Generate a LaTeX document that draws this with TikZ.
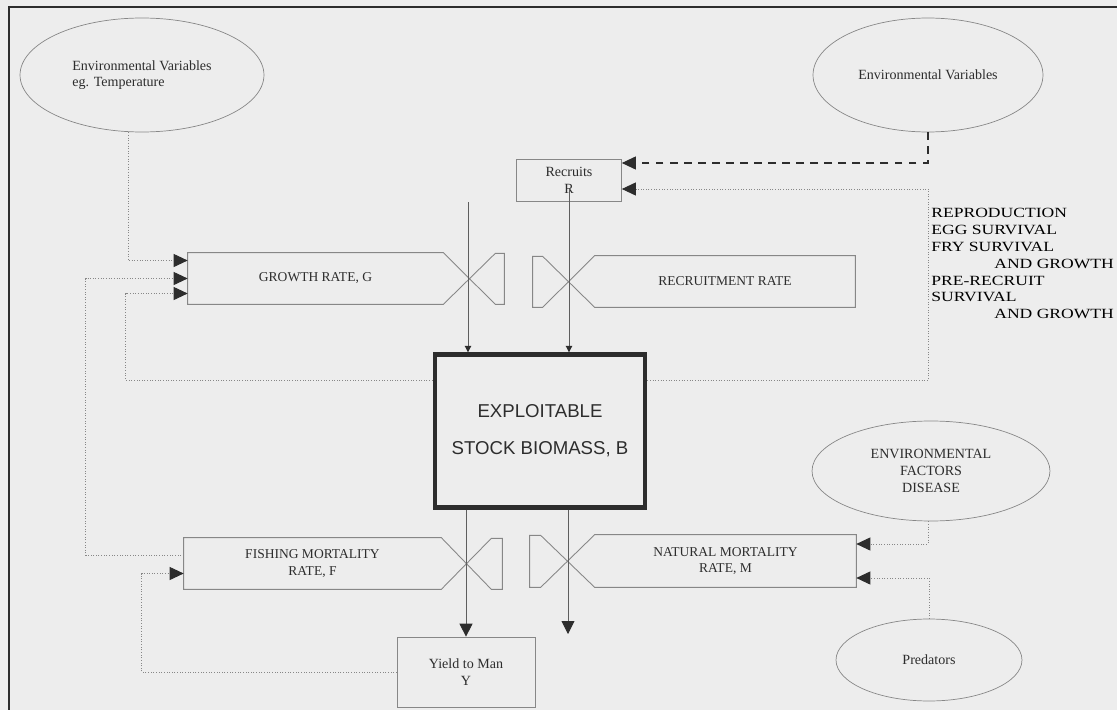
\documentclass[tikz,border=0pt]{standalone}
\usepackage{fontspec}
\setmainfont{Liberation Serif}
\newfontfamily\biofont{Liberation Sans}
\newfontfamily\widefont[FakeStretch=1.25]{Liberation Serif}
\usetikzlibrary{arrows.meta,calc,shapes.geometric}
\definecolor{bggray}{RGB}{237,237,237}
\definecolor{linegray}{RGB}{135,135,135}
\definecolor{inkgray}{RGB}{45,45,45}

\begin{document}
\begin{tikzpicture}[x=0.02cm, y=-0.02cm,
  box/.style={draw=linegray, rectangle, inner sep=0pt, align=center, text=inkgray, font=\fontsize{8}{9.5}\selectfont},
  rate/.style={rectangle, inner sep=0pt, minimum height=1.02cm, align=center, text=inkgray, font=\fontsize{7.7}{9.2}\selectfont},
  oval/.style={draw=linegray, ellipse, inner sep=0pt, align=center, text=inkgray, font=\fontsize{8}{9.5}\selectfont},
  valve/.style={draw=linegray, line width=0.5pt},
  flow/.style={draw=linegray!70!black, line width=0.5pt, -{Triangle[length=1.3mm,width=1.3mm,color=inkgray]}},
  flowbig/.style={draw=linegray!70!black, line width=0.5pt, -{Triangle[length=2.6mm,width=2.6mm,color=inkgray]}},
  fb/.style={draw=linegray, line width=0.5pt, densely dotted, -{Triangle[length=2.8mm,width=2.6mm,color=inkgray]}},
  fbdash/.style={draw=inkgray, line width=0.6pt, dash pattern=on 4.5pt off 3.5pt, -{Triangle[length=2.8mm,width=2.6mm,color=inkgray]}}
]
\useasboundingbox (0,0) rectangle (1117,710);
\fill[bggray] (0,0) rectangle (1117,710);
\draw[inkgray, line width=1.2pt] (9,730) -- (9,7) -- (1140,7);

% outside influences
\node[oval, minimum width=4.88cm, minimum height=2.28cm, align=left] (env1) at (142,75) {Environmental Variables\\eg. Temperature};
\node[oval, minimum width=4.6cm, minimum height=2.28cm] (env2) at (928,75) {Environmental Variables};
\node[oval, minimum width=4.76cm, minimum height=2cm] (envf) at (931,471) {ENVIRONMENTAL\\FACTORS\\DISEASE};
\node[oval, minimum width=3.72cm, minimum height=1.64cm] (pred) at (929,660) {Predators};

% stock and boxes
\node[box, minimum width=2.1cm, minimum height=0.84cm] (recruits) at (569,180) {Recruits\\R};
\node[box, minimum width=2.76cm, minimum height=1.4cm] (yield) at (466,672) {Yield to Man\\Y};
\node[draw=inkgray, line width=2.8pt, minimum width=4.2cm, minimum height=3.05cm, inner sep=0pt, align=center, text=inkgray, font=\biofont\fontsize{10.6}{21}\selectfont] (biomass) at (540,431) {EXPLOITABLE\\STOCK BIOMASS, B};

% rates with valves
\node[rate, minimum width=5.1cm] (growth) at (315.5,278.5) {GROWTH RATE, G};
\node[rate, minimum width=5.2cm] (recr) at (725,281.5) {RECRUITMENT RATE};
\node[rate, minimum width=5.14cm] (fishing) at (312.5,563.5) {FISHING MORTALITY\\RATE, F};
\node[rate, minimum width=5.22cm, minimum height=1.04cm] (natural) at (725.5,561) {NATURAL MORTALITY\\RATE, M};

\draw[valve] (growth.north east) -- (growth.north west) -- (growth.south west) -- (growth.south east)
  -- ++(52,-51) -- ++(9,0) -- ++(0,51) -- ++(-9,0) -- cycle;
\draw[valve] (recr.north west) -- (recr.north east) -- (recr.south east) -- (recr.south west)
  -- ++(-52,-51) -- ++(-10,0) -- ++(0,51) -- ++(10,0) -- cycle;
\draw[valve] (fishing.north east) -- (fishing.north west) -- (fishing.south west) -- (fishing.south east)
  -- ++(50,-51) -- ++(11,0) -- ++(0,51) -- ++(-11,0) -- cycle;
\draw[valve] (natural.north west) -- (natural.north east) -- (natural.south east) -- (natural.south west)
  -- ++(-54,-52) -- ++(-11,0) -- ++(0,52) -- ++(11,0) -- cycle;

\node[align=left, text=black, anchor=north west, inner sep=0pt, font=\widefont\fontsize{8}{9.6}\selectfont] (repro) at (931,208)
  {REPRODUCTION\\EGG SURVIVAL\\FRY SURVIVAL\\\hspace*{1.26cm}AND GROWTH\\PRE-RECRUIT\\SURVIVAL\\\hspace*{1.26cm}AND GROWTH};

% flows
\coordinate (gsrc) at (468,202);
\coordinate (nsink) at (568,634);
\draw[flow] (gsrc) -- (gsrc |- biomass.north);
\draw[flow] ($(recruits.center)+(0,9)$) -- (recruits.center |- biomass.north);
\draw[flowbig] (biomass.south -| yield.north) -- (yield.north);
\draw[flowbig] (biomass.south -| nsink) -- (nsink);

% information links
\draw[fb] ($(env1.south)+(-14,0)$) |- ($(growth.west)+(0,-18)$);
\draw[fb] ($(fishing.west)+(0,-8)$) -- ++(-98,0) |- (growth.west);
\draw[fb] ($(biomass.west)+(0,-51)$) -- ++(-307,0) |- ($(growth.west)+(0,15)$);
\draw[fb] ($(biomass.east)+(0,-51)$) -- ++(281,0) |- ($(recruits.east)+(0,9)$);
\draw[fbdash] (env2.south) |- ($(recruits.east)+(0,-17)$);
\draw[fb] (yield.west) -- ++(-255,0) |- ($(fishing.west)+(0,10)$);
\draw[fb] ($(envf.south)+(-3,0)$) |- ($(natural.east)+(0,-17)$);
\draw[fb] (pred.north) |- ($(natural.east)+(0,17)$);
\end{tikzpicture}
\end{document}
